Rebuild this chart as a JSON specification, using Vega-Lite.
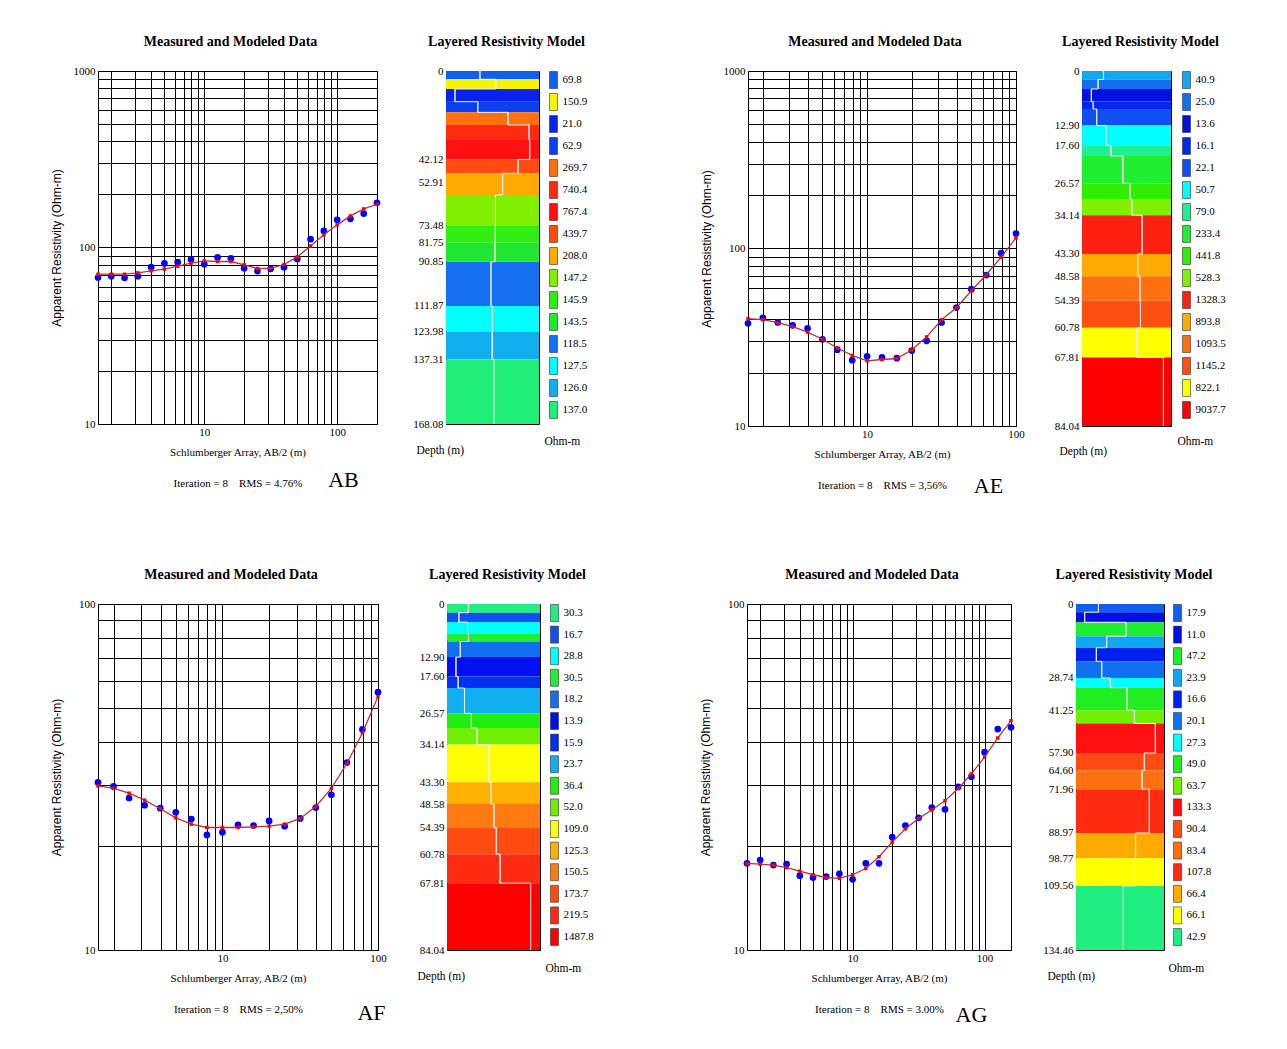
{
  "$schema": "https://vega.github.io/schema/vega-lite/v6.json",
  "background": "white",
  "padding": {"left": 49, "top": 34, "right": 5, "bottom": 5},
  "config": {
    "font": "Liberation Serif",
    "view": {"stroke": "#000", "strokeWidth": 1},
    "title": {"font": "Liberation Serif", "fontSize": 14, "fontWeight": "bold", "color": "#000", "frame": "group", "offset": 16, "anchor": "middle"},
    "axis": {"labelFont": "Liberation Serif", "labelFontSize": 11, "labelColor": "#000", "titleFont": "Liberation Serif", "titleFontWeight": "normal", "titleColor": "#000", "titleFontSize": 11, "gridColor": "#000", "gridOpacity": 1, "gridWidth": 1, "ticks": false, "tickSize": 0, "domain": false, "labelFlush": false, "labelOverlap": false},
    "legend": {"orient": "none", "legendY": 0, "padding": 0, "symbolType": "M-0.47,-1H0.47V1H-0.47Z", "symbolSize": 289, "symbolStrokeColor": "#333", "symbolStrokeWidth": 0.6, "symbolOpacity": 1, "rowPadding": 2, "labelOffset": 0, "labelFont": "Liberation Serif", "labelFontSize": 11, "labelColor": "#000", "titleFont": "Liberation Serif", "titleFontSize": 11.5, "titleFontWeight": "normal", "titleColor": "#000", "titleOrient": "bottom", "titleAnchor": "start", "titlePadding": 16}
  },
  "datasets": {
    "snd": [
      {"s":"AB","ab2":1.585,"meas":67.6,"mod":70.6},{"s":"AB","ab2":1.995,"meas":68.8,"mod":70.6},{"s":"AB","ab2":2.512,"meas":67.3,"mod":70.6},{"s":"AB","ab2":3.162,"meas":68.8,"mod":71.9},{"s":"AB","ab2":3.981,"meas":77.4,"mod":73.8},{"s":"AB","ab2":5.012,"meas":81.2,"mod":75.4},{"s":"AB","ab2":6.31,"meas":82.6,"mod":78.4},{"s":"AB","ab2":7.943,"meas":85.5,"mod":81.5},{"s":"AB","ab2":10,"meas":80.5,"mod":84.0},{"s":"AB","ab2":12.59,"meas":87.8,"mod":83.3},{"s":"AB","ab2":15.85,"meas":86.7,"mod":83.3},{"s":"AB","ab2":19.95,"meas":76.4,"mod":79.8},{"s":"AB","ab2":25.12,"meas":73.5,"mod":76.1},{"s":"AB","ab2":31.62,"meas":75.7,"mod":76.1},{"s":"AB","ab2":39.81,"meas":77.4,"mod":80.1},{"s":"AB","ab2":50.12,"meas":86.2,"mod":88.5},{"s":"AB","ab2":63.1,"meas":111.5,"mod":102},{"s":"AB","ab2":79.43,"meas":124.2,"mod":118},{"s":"AB","ab2":100,"meas":143.4,"mod":134.4},{"s":"AB","ab2":125.9,"meas":145.3,"mod":151},{"s":"AB","ab2":158.5,"meas":155.7,"mod":165.5},{"s":"AB","ab2":199.5,"meas":179,"mod":175.8},
      {"s":"AE","ab2":1.585,"meas":37.9,"mod":40.2},{"s":"AE","ab2":1.995,"meas":40.7,"mod":39.7},{"s":"AE","ab2":2.512,"meas":38.3,"mod":38.2},{"s":"AE","ab2":3.162,"meas":36.9,"mod":36.3},{"s":"AE","ab2":3.981,"meas":35.5,"mod":33.8},{"s":"AE","ab2":5.012,"meas":30.8,"mod":30.8},{"s":"AE","ab2":6.31,"meas":26.9,"mod":27.5},{"s":"AE","ab2":7.943,"meas":23.5,"mod":25.0},{"s":"AE","ab2":10,"meas":24.7,"mod":23.3},{"s":"AE","ab2":12.59,"meas":24.4,"mod":23.7},{"s":"AE","ab2":15.85,"meas":24.1,"mod":24.0},{"s":"AE","ab2":19.95,"meas":26.6,"mod":26.9},{"s":"AE","ab2":25.12,"meas":30.2,"mod":31.8},{"s":"AE","ab2":31.62,"meas":38.3,"mod":39.7},{"s":"AE","ab2":39.81,"meas":46.5,"mod":46.4},{"s":"AE","ab2":50.12,"meas":59.0,"mod":57.8},{"s":"AE","ab2":63.1,"meas":70.8,"mod":71.1},{"s":"AE","ab2":79.43,"meas":94.1,"mod":89.4},{"s":"AE","ab2":100,"meas":121.4,"mod":114.8},
      {"s":"AF","ab2":1.585,"meas":30.5,"mod":29.8},{"s":"AF","ab2":1.995,"meas":29.7,"mod":29.3},{"s":"AF","ab2":2.512,"meas":27.5,"mod":28.4},{"s":"AF","ab2":3.162,"meas":26.2,"mod":27.1},{"s":"AF","ab2":3.981,"meas":25.7,"mod":25.6},{"s":"AF","ab2":5.012,"meas":25.0,"mod":24.1},{"s":"AF","ab2":6.31,"meas":23.9,"mod":23.1},{"s":"AF","ab2":7.943,"meas":21.5,"mod":22.6},{"s":"AF","ab2":10,"meas":21.9,"mod":22.6},{"s":"AF","ab2":12.59,"meas":23.0,"mod":22.6},{"s":"AF","ab2":15.85,"meas":22.9,"mod":22.7},{"s":"AF","ab2":19.95,"meas":23.6,"mod":22.8},{"s":"AF","ab2":25.12,"meas":22.8,"mod":23.1},{"s":"AF","ab2":31.62,"meas":24.0,"mod":24.0},{"s":"AF","ab2":39.81,"meas":25.8,"mod":26.0},{"s":"AF","ab2":50.12,"meas":28.1,"mod":29.3},{"s":"AF","ab2":63.1,"meas":34.8,"mod":34.6},{"s":"AF","ab2":79.43,"meas":43.4,"mod":42.4},{"s":"AF","ab2":100,"meas":55.6,"mod":54.0},
      {"s":"AG","ab2":1.585,"meas":17.8,"mod":17.8},{"s":"AG","ab2":1.995,"meas":18.2,"mod":17.7},{"s":"AG","ab2":2.512,"meas":17.6,"mod":17.6},{"s":"AG","ab2":3.162,"meas":17.7,"mod":17.3},{"s":"AG","ab2":3.981,"meas":16.4,"mod":16.9},{"s":"AG","ab2":5.012,"meas":16.2,"mod":16.5},{"s":"AG","ab2":6.31,"meas":16.3,"mod":16.2},{"s":"AG","ab2":7.943,"meas":16.6,"mod":16.1},{"s":"AG","ab2":10,"meas":16.0,"mod":16.5},{"s":"AG","ab2":12.59,"meas":17.8,"mod":17.2},{"s":"AG","ab2":15.85,"meas":17.8,"mod":18.6},{"s":"AG","ab2":19.95,"meas":21.2,"mod":20.5},{"s":"AG","ab2":25.12,"meas":22.9,"mod":22.4},{"s":"AG","ab2":31.62,"meas":24.1,"mod":24.0},{"s":"AG","ab2":39.81,"meas":25.8,"mod":25.4},{"s":"AG","ab2":50.12,"meas":25.5,"mod":27.0},{"s":"AG","ab2":63.1,"meas":29.6,"mod":29.3},{"s":"AG","ab2":79.43,"meas":31.7,"mod":32.3},{"s":"AG","ab2":100,"meas":37.3,"mod":36.1},{"s":"AG","ab2":125.9,"meas":43.5,"mod":41.0},{"s":"AG","ab2":158.5,"meas":44.0,"mod":46.0}
    ],
    "lay": [
      {"s":"AB","top":0,"bottom":3.96,"rho":69.8},{"s":"AB","top":3.96,"bottom":8.56,"rho":150.9},{"s":"AB","top":8.56,"bottom":14.6,"rho":21.0},{"s":"AB","top":14.6,"bottom":19.7,"rho":62.9},{"s":"AB","top":19.7,"bottom":25.7,"rho":269.7},{"s":"AB","top":25.7,"bottom":32.8,"rho":740.4},{"s":"AB","top":32.8,"bottom":42.12,"rho":767.4},{"s":"AB","top":42.12,"bottom":48.7,"rho":439.7},{"s":"AB","top":48.7,"bottom":59.0,"rho":208.0},{"s":"AB","top":59.0,"bottom":73.48,"rho":147.2},{"s":"AB","top":73.48,"bottom":81.75,"rho":145.9},{"s":"AB","top":81.75,"bottom":90.85,"rho":143.5},{"s":"AB","top":90.85,"bottom":111.87,"rho":118.5},{"s":"AB","top":111.87,"bottom":123.98,"rho":127.5},{"s":"AB","top":123.98,"bottom":137.31,"rho":126.0},{"s":"AB","top":137.31,"bottom":168.08,"rho":137.0},
      {"s":"AE","top":0,"bottom":2.0,"rho":40.9},{"s":"AE","top":2.0,"bottom":4.25,"rho":25.0},{"s":"AE","top":4.25,"bottom":7.24,"rho":13.6},{"s":"AE","top":7.24,"bottom":9.0,"rho":16.1},{"s":"AE","top":9.0,"bottom":12.9,"rho":22.1},{"s":"AE","top":12.9,"bottom":17.6,"rho":50.7},{"s":"AE","top":17.6,"bottom":20.1,"rho":79.0},{"s":"AE","top":20.1,"bottom":26.57,"rho":233.4},{"s":"AE","top":26.57,"bottom":30.3,"rho":441.8},{"s":"AE","top":30.3,"bottom":34.14,"rho":528.3},{"s":"AE","top":34.14,"bottom":43.3,"rho":1328.3},{"s":"AE","top":43.3,"bottom":48.58,"rho":893.8},{"s":"AE","top":48.58,"bottom":54.39,"rho":1093.5},{"s":"AE","top":54.39,"bottom":60.78,"rho":1145.2},{"s":"AE","top":60.78,"bottom":67.81,"rho":822.1},{"s":"AE","top":67.81,"bottom":84.04,"rho":9037.7},
      {"s":"AF","top":0,"bottom":2.1,"rho":30.3},{"s":"AF","top":2.1,"bottom":4.4,"rho":16.7},{"s":"AF","top":4.4,"bottom":7.26,"rho":28.8},{"s":"AF","top":7.26,"bottom":9.1,"rho":30.5},{"s":"AF","top":9.1,"bottom":12.9,"rho":18.2},{"s":"AF","top":12.9,"bottom":17.6,"rho":13.9},{"s":"AF","top":17.6,"bottom":20.4,"rho":15.9},{"s":"AF","top":20.4,"bottom":26.57,"rho":23.7},{"s":"AF","top":26.57,"bottom":30.1,"rho":36.4},{"s":"AF","top":30.1,"bottom":34.14,"rho":52.0},{"s":"AF","top":34.14,"bottom":43.3,"rho":109.0},{"s":"AF","top":43.3,"bottom":48.58,"rho":125.3},{"s":"AF","top":48.58,"bottom":54.39,"rho":150.5},{"s":"AF","top":54.39,"bottom":60.78,"rho":173.7},{"s":"AF","top":60.78,"bottom":67.81,"rho":219.5},{"s":"AF","top":67.81,"bottom":84.04,"rho":1487.8},
      {"s":"AG","top":0,"bottom":3.2,"rho":17.9},{"s":"AG","top":3.2,"bottom":7.1,"rho":11.0},{"s":"AG","top":7.1,"bottom":12.5,"rho":47.2},{"s":"AG","top":12.5,"bottom":17.0,"rho":23.9},{"s":"AG","top":17.0,"bottom":22.3,"rho":16.6},{"s":"AG","top":22.3,"bottom":28.74,"rho":20.1},{"s":"AG","top":28.74,"bottom":32.5,"rho":27.3},{"s":"AG","top":32.5,"bottom":41.25,"rho":49.0},{"s":"AG","top":41.25,"bottom":46.4,"rho":63.7},{"s":"AG","top":46.4,"bottom":57.9,"rho":133.3},{"s":"AG","top":57.9,"bottom":64.6,"rho":90.4},{"s":"AG","top":64.6,"bottom":71.96,"rho":83.4},{"s":"AG","top":71.96,"bottom":88.97,"rho":107.8},{"s":"AG","top":88.97,"bottom":98.77,"rho":66.4},{"s":"AG","top":98.77,"bottom":109.56,"rho":66.1},{"s":"AG","top":109.56,"bottom":134.46,"rho":42.9}
    ]
  },
  "spacing": 70,
  "resolve": {"scale": {"color": "independent"}, "legend": {"color": "independent"}},
  "vconcat": [
    {
      "spacing": 111,
      "resolve": {"scale": {"color": "independent"}, "legend": {"color": "independent"}},
      "hconcat": [
        {
          "spacing": 69, "bounds": "flush",
          "resolve": {"scale": {"color": "independent"}, "legend": {"color": "independent"}},
          "hconcat": [
            {
              "width": 279, "height": 353,
              "title": {"text": "Measured and Modeled Data", "dx": -7},
              "data": {"name": "snd"},
              "transform": [{"filter": "datum.s == 'AB'"}],
              "encoding": {"x": {"field": "ab2", "type": "quantitative", "scale": {"type": "log", "domain": [1.585, 199.5], "nice": false}, "axis": {"values": [2,3,4,5,6,7,8,9,10,20,30,40,50,60,70,80,90,100], "labelExpr": "datum.value == 10 || datum.value == 100 ? datum.value + '' : ''", "grid": true, "labelPadding": 2, "minExtent": 14, "maxExtent": 14, "titlePadding": 8, "titleLineHeight": 31, "title": ["Schlumberger Array, AB/2 (m)", "Iteration = 8\u00a0\u00a0\u00a0\u00a0RMS = 4.76%"]}}},
              "layer": [
                {"mark": {"type": "point", "filled": true, "color": "#0000ff", "size": 45, "opacity": 1},
                 "encoding": {"y": {"field": "meas", "type": "quantitative", "scale": {"type": "log", "domain": [10, 1000], "nice": false}, "axis": {"values": [10,20,30,40,50,60,70,80,90,100,200,300,400,500,600,700,800,900,1000], "labelExpr": "datum.value == 10 || datum.value == 100 || datum.value == 1000 ? datum.value + '' : ''", "grid": true, "labelPadding": 3, "minExtent": 30, "maxExtent": 30, "title": "Apparent Resistivity (Ohm-m)", "titleFont": "Liberation Sans", "titleFontSize": 12, "titlePadding": 5}}}},
                {"mark": {"type": "line", "color": "#b8333c", "strokeWidth": 1.3, "point": {"filled": true, "shape": "square", "size": 12, "color": "#ff0000"}},
                 "encoding": {"y": {"field": "mod", "type": "quantitative", "scale": {"type": "log", "domain": [10, 1000], "nice": false}, "axis": {"orient": "right", "grid": false, "labels": false, "title": "AB", "titleAngle": 0, "titleX": -34, "titleY": 408, "titleFontSize": 22, "titleAlign": "center", "titleBaseline": "middle"}}}}
              ],
              "resolve": {"scale": {"y": "independent"}}
            },
            {
              "width": 93, "height": 353,
              "title": {"text": "Layered Resistivity Model", "dx": 14},
              "data": {"name": "lay"},
              "transform": [{"filter": "datum.s == 'AB'"}],
              "encoding": {"y": {"field": "top", "type": "quantitative", "scale": {"domain": [0, 168.08], "reverse": true, "nice": false, "zero": false}, "axis": {"values": [0,42.12,52.91,73.48,81.75,90.85,111.87,123.98,137.31,168.08], "labelExpr": "datum.value == 0 ? '0' : format(datum.value, '.2f')", "grid": false, "labelPadding": 3, "title": "Depth (m)", "titleAngle": 0, "titleX": -30, "titleY": 379, "titleAlign": "left", "titleBaseline": "middle", "titleFontSize": 11.5}}},
              "layer": [
                {"mark": {"type": "rect"}, "encoding": {"y2": {"field": "bottom"}, "color": {"field": "rho", "type": "nominal", "sort": {"field": "top", "op": "min"}, "scale": {"range": ["#1060f0","#f5f500","#0a22f0","#0a40f0","#ff7010","#ff2a10","#ff1010","#ff4a10","#ffaa00","#80f000","#30ee10","#20e830","#1470f0","#00ffff","#10b0f0","#20ee78"]}, "legend": {"title": "Ohm-m", "legendX": 98.5, "labelExpr": "format(datum.value, '.1f')"}}}},
                {"mark": {"type": "line", "interpolate": "step-before", "color": "#eeeeee", "strokeWidth": 1}, "encoding": {"x": {"field": "rho", "type": "quantitative", "scale": {"type": "log", "domain": [13.6, 1200], "nice": false}, "axis": null}, "order": {"field": "top"}}},
                {"mark": {"type": "rule", "color": "#eeeeee", "strokeWidth": 1}, "encoding": {"x": {"field": "rho", "type": "quantitative", "scale": {"type": "log", "domain": [13.6, 1200], "nice": false}, "axis": null}, "y2": {"field": "bottom"}}}
              ]
            }
          ]
        },
        {
          "spacing": 66, "bounds": "flush",
          "resolve": {"scale": {"color": "independent"}, "legend": {"color": "independent"}},
          "hconcat": [
            {
              "width": 268, "height": 355,
              "title": {"text": "Measured and Modeled Data", "dx": -7},
              "data": {"name": "snd"},
              "transform": [{"filter": "datum.s == 'AE'"}],
              "encoding": {"x": {"field": "ab2", "type": "quantitative", "scale": {"type": "log", "domain": [1.585, 100], "nice": false}, "axis": {"values": [2,3,4,5,6,7,8,9,10,20,30,40,50,60,70,80,90,100], "labelExpr": "datum.value == 10 || datum.value == 100 ? datum.value + '' : ''", "grid": true, "labelPadding": 2, "minExtent": 14, "maxExtent": 14, "titlePadding": 8, "titleLineHeight": 31, "title": ["Schlumberger Array, AB/2 (m)", "Iteration = 8\u00a0\u00a0\u00a0\u00a0RMS = 3,56%"]}}},
              "layer": [
                {"mark": {"type": "point", "filled": true, "color": "#0000ff", "size": 45, "opacity": 1},
                 "encoding": {"y": {"field": "meas", "type": "quantitative", "scale": {"type": "log", "domain": [10, 1000], "nice": false}, "axis": {"values": [10,20,30,40,50,60,70,80,90,100,200,300,400,500,600,700,800,900,1000], "labelExpr": "datum.value == 10 || datum.value == 100 || datum.value == 1000 ? datum.value + '' : ''", "grid": true, "labelPadding": 3, "minExtent": 30, "maxExtent": 30, "title": "Apparent Resistivity (Ohm-m)", "titleFont": "Liberation Sans", "titleFontSize": 12, "titlePadding": 5}}}},
                {"mark": {"type": "line", "color": "#b8333c", "strokeWidth": 1.3, "point": {"filled": true, "shape": "square", "size": 12, "color": "#ff0000"}},
                 "encoding": {"y": {"field": "mod", "type": "quantitative", "scale": {"type": "log", "domain": [10, 1000], "nice": false}, "axis": {"orient": "right", "grid": false, "labels": false, "title": "AE", "titleAngle": 0, "titleX": -28, "titleY": 414, "titleFontSize": 22, "titleAlign": "center", "titleBaseline": "middle"}}}}
              ],
              "resolve": {"scale": {"y": "independent"}}
            },
            {
              "width": 89, "height": 355,
              "title": {"text": "Layered Resistivity Model", "dx": 14},
              "data": {"name": "lay"},
              "transform": [{"filter": "datum.s == 'AE'"}],
              "encoding": {"y": {"field": "top", "type": "quantitative", "scale": {"domain": [0, 84.04], "reverse": true, "nice": false, "zero": false}, "axis": {"values": [0,12.9,17.6,26.57,34.14,43.3,48.58,54.39,60.78,67.81,84.04], "labelExpr": "datum.value == 0 ? '0' : format(datum.value, '.2f')", "grid": false, "labelPadding": 3, "title": "Depth (m)", "titleAngle": 0, "titleX": -23, "titleY": 380, "titleAlign": "left", "titleBaseline": "middle", "titleFontSize": 11.5}}},
              "layer": [
                {"mark": {"type": "rect"}, "encoding": {"y2": {"field": "bottom"}, "color": {"field": "rho", "type": "nominal", "sort": {"field": "top", "op": "min"}, "scale": {"range": ["#10a8f0","#1070f0","#0010e0","#0028f0","#1050f0","#00ffff","#20f090","#20ee30","#30ee00","#80f000","#ff2010","#ffaa00","#ff7010","#ff5010","#ffff00","#ff0000"]}, "legend": {"title": "Ohm-m", "legendX": 95.5, "labelExpr": "format(datum.value, '.1f')"}}}},
                {"mark": {"type": "line", "interpolate": "step-before", "color": "#eeeeee", "strokeWidth": 1}, "encoding": {"x": {"field": "rho", "type": "quantitative", "scale": {"type": "log", "domain": [5.86, 18000], "nice": false}, "axis": null}, "order": {"field": "top"}}},
                {"mark": {"type": "rule", "color": "#eeeeee", "strokeWidth": 1}, "encoding": {"x": {"field": "rho", "type": "quantitative", "scale": {"type": "log", "domain": [5.86, 18000], "nice": false}, "axis": null}, "y2": {"field": "bottom"}}}
              ]
            }
          ]
        }
      ]
    },
    {
      "spacing": 103,
      "resolve": {"scale": {"color": "independent"}, "legend": {"color": "independent"}},
      "hconcat": [
        {
          "spacing": 69, "bounds": "flush",
          "resolve": {"scale": {"color": "independent"}, "legend": {"color": "independent"}},
          "hconcat": [
            {
              "width": 280, "height": 346,
              "title": {"text": "Measured and Modeled Data", "dx": -7},
              "data": {"name": "snd"},
              "transform": [{"filter": "datum.s == 'AF'"}],
              "encoding": {"x": {"field": "ab2", "type": "quantitative", "scale": {"type": "log", "domain": [1.585, 100], "nice": false}, "axis": {"values": [2,3,4,5,6,7,8,9,10,20,30,40,50,60,70,80,90,100], "labelExpr": "datum.value == 10 || datum.value == 100 ? datum.value + '' : ''", "grid": true, "labelPadding": 2, "minExtent": 14, "maxExtent": 14, "titlePadding": 8, "titleLineHeight": 31, "title": ["Schlumberger Array, AB/2 (m)", "Iteration = 8\u00a0\u00a0\u00a0\u00a0RMS = 2,50%"]}}},
              "layer": [
                {"mark": {"type": "point", "filled": true, "color": "#0000ff", "size": 45, "opacity": 1},
                 "encoding": {"y": {"field": "meas", "type": "quantitative", "scale": {"type": "log", "domain": [10, 100], "nice": false}, "axis": {"values": [10,20,30,40,50,60,70,80,90,100], "labelExpr": "datum.value == 10 || datum.value == 100 ? datum.value + '' : ''", "grid": true, "labelPadding": 3, "minExtent": 30, "maxExtent": 30, "title": "Apparent Resistivity (Ohm-m)", "titleFont": "Liberation Sans", "titleFontSize": 12, "titlePadding": 5}}}},
                {"mark": {"type": "line", "color": "#b8333c", "strokeWidth": 1.3, "point": {"filled": true, "shape": "square", "size": 12, "color": "#ff0000"}},
                 "encoding": {"y": {"field": "mod", "type": "quantitative", "scale": {"type": "log", "domain": [10, 100], "nice": false}, "axis": {"orient": "right", "grid": false, "labels": false, "title": "AF", "titleAngle": 0, "titleX": -7, "titleY": 408, "titleFontSize": 22, "titleAlign": "center", "titleBaseline": "middle"}}}}
              ],
              "resolve": {"scale": {"y": "independent"}}
            },
            {
              "width": 93, "height": 346,
              "title": {"text": "Layered Resistivity Model", "dx": 14},
              "data": {"name": "lay"},
              "transform": [{"filter": "datum.s == 'AF'"}],
              "encoding": {"y": {"field": "top", "type": "quantitative", "scale": {"domain": [0, 84.04], "reverse": true, "nice": false, "zero": false}, "axis": {"values": [0,12.9,17.6,26.57,34.14,43.3,48.58,54.39,60.78,67.81,84.04], "labelExpr": "datum.value == 0 ? '0' : format(datum.value, '.2f')", "grid": false, "labelPadding": 3, "title": "Depth (m)", "titleAngle": 0, "titleX": -30, "titleY": 372, "titleAlign": "left", "titleBaseline": "middle", "titleFontSize": 11.5}}},
              "layer": [
                {"mark": {"type": "rect"}, "encoding": {"y2": {"field": "bottom"}, "color": {"field": "rho", "type": "nominal", "sort": {"field": "top", "op": "min"}, "scale": {"range": ["#20ee80","#1050f0","#00ffff","#20ee30","#1070f0","#0010f0","#0030f0","#10b0f0","#20ee10","#70f000","#ffff00","#ffb000","#ff7a10","#ff4a10","#ff2a10","#ff0000"]}, "legend": {"title": "Ohm-m", "legendX": 98.5, "rowPadding": 1.6, "labelExpr": "format(datum.value, '.1f')"}}}},
                {"mark": {"type": "line", "interpolate": "step-before", "color": "#eeeeee", "strokeWidth": 1}, "encoding": {"x": {"field": "rho", "type": "quantitative", "scale": {"type": "log", "domain": [7.94, 2663], "nice": false}, "axis": null}, "order": {"field": "top"}}},
                {"mark": {"type": "rule", "color": "#eeeeee", "strokeWidth": 1}, "encoding": {"x": {"field": "rho", "type": "quantitative", "scale": {"type": "log", "domain": [7.94, 2663], "nice": false}, "axis": null}, "y2": {"field": "bottom"}}}
              ]
            }
          ]
        },
        {
          "spacing": 65, "bounds": "flush",
          "resolve": {"scale": {"color": "independent"}, "legend": {"color": "independent"}},
          "hconcat": [
            {
              "width": 264, "height": 346,
              "title": {"text": "Measured and Modeled Data", "dx": -7},
              "data": {"name": "snd"},
              "transform": [{"filter": "datum.s == 'AG'"}],
              "encoding": {"x": {"field": "ab2", "type": "quantitative", "scale": {"type": "log", "domain": [1.585, 158.5], "nice": false}, "axis": {"values": [2,3,4,5,6,7,8,9,10,20,30,40,50,60,70,80,90,100], "labelExpr": "datum.value == 10 || datum.value == 100 ? datum.value + '' : ''", "grid": true, "labelPadding": 2, "minExtent": 14, "maxExtent": 14, "titlePadding": 8, "titleLineHeight": 31, "title": ["Schlumberger Array, AB/2 (m)", "Iteration = 8\u00a0\u00a0\u00a0\u00a0RMS = 3.00%"]}}},
              "layer": [
                {"mark": {"type": "point", "filled": true, "color": "#0000ff", "size": 45, "opacity": 1},
                 "encoding": {"y": {"field": "meas", "type": "quantitative", "scale": {"type": "log", "domain": [10, 100], "nice": false}, "axis": {"values": [10,20,30,40,50,60,70,80,90,100], "labelExpr": "datum.value == 10 || datum.value == 100 ? datum.value + '' : ''", "grid": true, "labelPadding": 3, "minExtent": 30, "maxExtent": 30, "title": "Apparent Resistivity (Ohm-m)", "titleFont": "Liberation Sans", "titleFontSize": 12, "titlePadding": 5}}}},
                {"mark": {"type": "line", "color": "#b8333c", "strokeWidth": 1.3, "point": {"filled": true, "shape": "square", "size": 12, "color": "#ff0000"}},
                 "encoding": {"y": {"field": "mod", "type": "quantitative", "scale": {"type": "log", "domain": [10, 100], "nice": false}, "axis": {"orient": "right", "grid": false, "labels": false, "title": "AG", "titleAngle": 0, "titleX": -40, "titleY": 410, "titleFontSize": 22, "titleAlign": "center", "titleBaseline": "middle"}}}}
              ],
              "resolve": {"scale": {"y": "independent"}}
            },
            {
              "width": 88, "height": 346,
              "title": {"text": "Layered Resistivity Model", "dx": 14},
              "data": {"name": "lay"},
              "transform": [{"filter": "datum.s == 'AG'"}],
              "encoding": {"y": {"field": "top", "type": "quantitative", "scale": {"domain": [0, 134.46], "reverse": true, "nice": false, "zero": false}, "axis": {"values": [0,28.74,41.25,57.9,64.6,71.96,88.97,98.77,109.56,134.46], "labelExpr": "datum.value == 0 ? '0' : format(datum.value, '.2f')", "grid": false, "labelPadding": 3, "title": "Depth (m)", "titleAngle": 0, "titleX": -29, "titleY": 372, "titleAlign": "left", "titleBaseline": "middle", "titleFontSize": 11.5}}},
              "layer": [
                {"mark": {"type": "rect"}, "encoding": {"y2": {"field": "bottom"}, "color": {"field": "rho", "type": "nominal", "sort": {"field": "top", "op": "min"}, "scale": {"range": ["#1060f0","#0010e0","#20ee30","#10a8f0","#0020f0","#1070f0","#00ffff","#20ee20","#70f000","#ff1010","#ff4a10","#ff7010","#ff2a10","#ffaa00","#ffff00","#20ee80"]}, "legend": {"title": "Ohm-m", "legendX": 92.5, "rowPadding": 1.6, "labelExpr": "format(datum.value, '.1f')"}}}},
                {"mark": {"type": "line", "interpolate": "step-before", "color": "#eeeeee", "strokeWidth": 1}, "encoding": {"x": {"field": "rho", "type": "quantitative", "scale": {"type": "log", "domain": [8.1, 181], "nice": false}, "axis": null}, "order": {"field": "top"}}},
                {"mark": {"type": "rule", "color": "#eeeeee", "strokeWidth": 1}, "encoding": {"x": {"field": "rho", "type": "quantitative", "scale": {"type": "log", "domain": [8.1, 181], "nice": false}, "axis": null}, "y2": {"field": "bottom"}}}
              ]
            }
          ]
        }
      ]
    }
  ]
}
